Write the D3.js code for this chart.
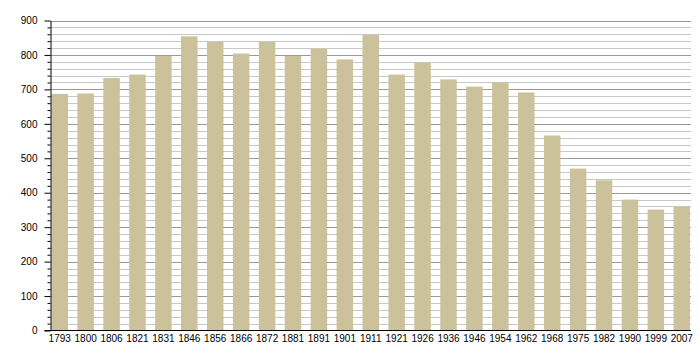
<!DOCTYPE html>
<html>
<head>
<meta charset="utf-8">
<script src="https://cdn.jsdelivr.net/npm/d3@7"></script>
<style>
  html, body { margin: 0; padding: 0; background: #fff; }
  svg { display: block; }
  text { font-family: "Liberation Sans", Arial, sans-serif; font-size: 10px; fill: #000; }
</style>
</head>
<body>
<svg id="chart" width="700" height="360"></svg>
<script>
const years = ["1793","1800","1806","1821","1831","1846","1856","1866","1872","1881","1891","1901","1911","1921","1926","1936","1946","1954","1962","1968","1975","1982","1990","1999","2007"];
const population = [687,688,733,743,797,854,838,804,838,797,818,787,858,743,777,729,708,720,691,566,470,436,380,351,359];
const yTicks = [0,100,200,300,400,500,600,700,800,900];

(function () {
const svg = d3.select("#chart");
const mLeft = 50.5, mRight = 691, mTop = 20.5, mBottom = 330.5;

const x = d3.scaleBand().domain(years).range([mLeft, mRight]).paddingInner(0.363).paddingOuter(0.037);
const y = d3.scaleLinear().domain([0, 900]).range([mBottom, mTop]);

// gridlines
const minor = d3.range(20, 901, 20).filter(v => v % 100 !== 0);
svg.append("g").selectAll("line").data(minor).join("line")
  .attr("x1", mLeft).attr("x2", mRight)
  .attr("y1", d => Math.round(y(d)) + 0.5).attr("y2", d => Math.round(y(d)) + 0.5)
  .attr("stroke", "#c8c8c8").attr("stroke-width", 1);
svg.append("g").selectAll("line").data(yTicks.filter(v => v > 0)).join("line")
  .attr("x1", mLeft).attr("x2", mRight)
  .attr("y1", d => Math.round(y(d)) + 0.5).attr("y2", d => Math.round(y(d)) + 0.5)
  .attr("stroke", "#999").attr("stroke-width", 1);

// bars
svg.append("g").selectAll("rect").data(years).join("rect")
  .attr("x", d => x(d))
  .attr("width", x.bandwidth())
  .attr("y", (d, i) => y(population[i]))
  .attr("height", (d, i) => y(0) - y(population[i]))
  .attr("fill", "#cbc19a");

// y axis
const yAxis = d3.axisLeft(y).tickValues(yTicks).tickSize(6).tickPadding(7).tickSizeOuter(0);
const gy = svg.append("g").attr("transform", `translate(${mLeft},0)`).call(yAxis);
gy.select(".domain").attr("stroke", "#000");
gy.selectAll(".tick line").attr("stroke", "#000");
gy.selectAll("text").style("font-size", "10px").attr("fill", "#000");
// minor ticks
const yMinor = d3.axisLeft(y).tickValues(minor).tickSize(3).tickFormat("");
const gym = svg.append("g").attr("transform", `translate(${mLeft},0)`).call(yMinor);
gym.select(".domain").remove();
gym.selectAll(".tick line").attr("stroke", "#000");

// x axis
const xAxis = d3.axisBottom(x).tickSize(0).tickPadding(5).tickSizeOuter(0);
const gx = svg.append("g").attr("transform", `translate(0,${mBottom - 0.5})`).call(xAxis);
gx.select(".domain").attr("stroke", "#000").attr("d", `M${mLeft - 6},0.5H${mRight}`);
gx.selectAll("text").style("font-size", "10px").attr("fill", "#000");
})();
</script>
</body>
</html>
